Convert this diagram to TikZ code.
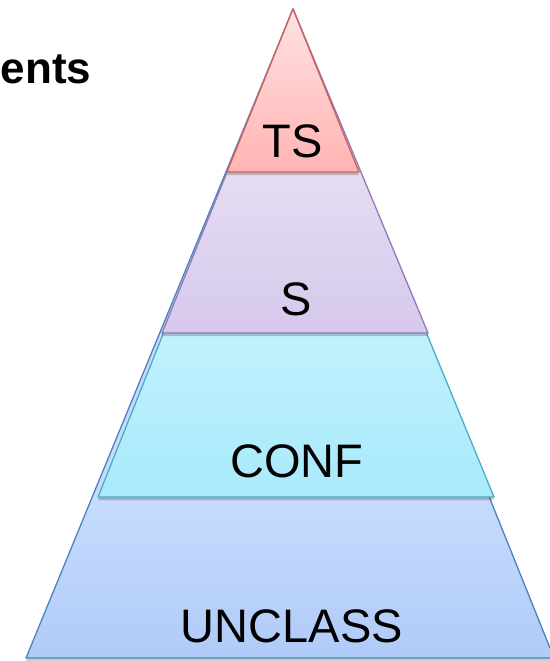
\documentclass[tikz,border=0pt]{standalone}
\usepackage{fontspec}
\setmainfont{Liberation Sans}

\definecolor{tsTop}{HTML}{FFE2E2}
\definecolor{tsBot}{HTML}{FFB4B2}
\definecolor{tsLine}{HTML}{D0625C}
\definecolor{sTop}{HTML}{E5DDF2}
\definecolor{sBot}{HTML}{D6C8EC}
\definecolor{sLine}{HTML}{9179BA}
\definecolor{cTop}{HTML}{C0F1FD}
\definecolor{cBot}{HTML}{A8EAFB}
\definecolor{cLine}{HTML}{4BACC6}
\definecolor{uTop}{HTML}{C6DBFD}
\definecolor{uBot}{HTML}{B0CBF8}
\definecolor{uLine}{HTML}{4F81BD}

\tikzset{
  edge/.style={line width=1.3pt, line join=round},
  shadowfill/.style={fill=black, opacity=0.2},
  lvl/.style={font=\fontsize{47}{50}\selectfont, text=black, inner sep=0pt, anchor=base},
}

% one layer of the pyramid: triangle from the apex to a base at height #1,
% base corners at x = #2 and #3; the colour ramp runs over the visible band #4..#1
\newcommand\pyramidlayer[7]{%
  \fill[shadowfill] ([yshift=-3pt]apex) -- ([yshift=-3pt]#2,#1) -- ([yshift=-3pt]#3,#1) -- cycle;
  \begin{scope}
    \clip (apex) -- (#2,#1) -- (#3,#1) -- cycle;
    \fill[#5] (0,0) rectangle (549,#4);
    \shade[top color=#5, bottom color=#6] (0,#4) rectangle (549,#1);
  \end{scope}
  \draw[edge, draw=#7] (apex) -- (#2,#1) -- (#3,#1) -- cycle;
}

\begin{document}
\begin{tikzpicture}[x=1pt, y=-1pt]
  \useasboundingbox (0,0) rectangle (549,661);
  \coordinate (apex) at (293,9);

  % widest layer first, each smaller triangle laid over the previous one
  \pyramidlayer{658}{26}{554}{497}{uTop}{uBot}{uLine}
  \pyramidlayer{497}{98}{494}{333}{cTop}{cBot}{cLine}
  \pyramidlayer{333}{162}{428}{172}{sTop}{sBot}{sLine}
  \pyramidlayer{172}{227}{359}{9}{tsTop}{tsBot}{tsLine}

  \node[lvl] (ts) at (293,157) {TS};
  \node[lvl] (s) at (296,315) {S};
  \node[lvl] (conf) at (297,477) {CONF};
  \node[lvl] (unclass) at (292,642) {UNCLASS};

  \node[font=\bfseries\fontsize{44}{48}\selectfont, inner sep=0pt, anchor=base west]
    (title) at (0.5,83) {ents};
\end{tikzpicture}
\end{document}
